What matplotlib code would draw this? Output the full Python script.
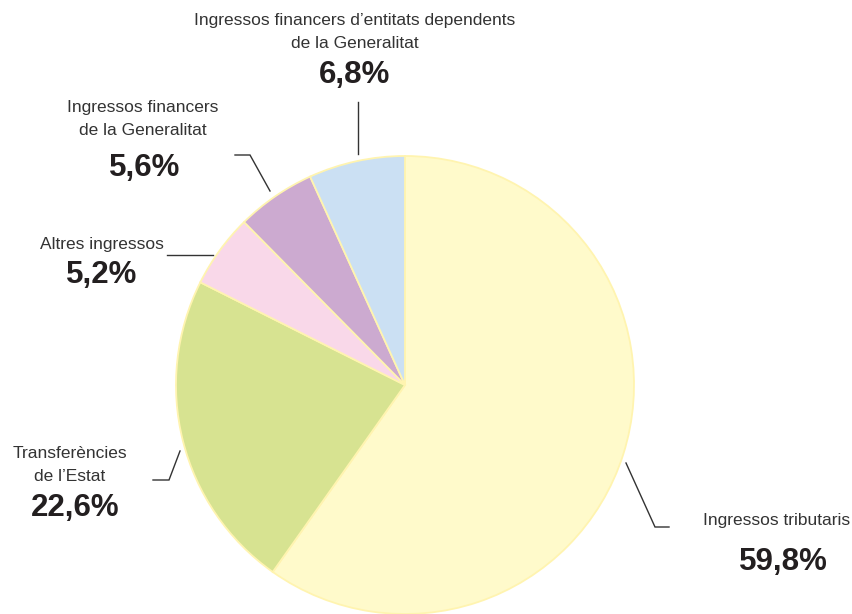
import matplotlib
matplotlib.use("Agg")
import matplotlib.pyplot as plt

labels = ["Ingressos tributaris", "Transferències\nde l’Estat", "Altres ingressos",
          "Ingressos financers\nde la Generalitat",
          "Ingressos financers d’entitats dependents\nde la Generalitat"]
values = [59.8, 22.6, 5.2, 5.6, 6.8]
pct_labels = ["59,8%", "22,6%", "5,2%", "5,6%", "6,8%"]
colors = ["#FFFACB", "#D7E391", "#F9D8E9", "#CCAAD0", "#CBE0F3"]

W, H = 852, 614
fig = plt.figure(figsize=(W / 100, H / 100), dpi=100)
ax = fig.add_axes([0, 0, 1, 1])

def Y(y):
    return H - y

ax.pie(values, colors=colors, startangle=90, counterclock=False,
       center=(405, Y(385)), radius=229,
       wedgeprops=dict(edgecolor="#FFF4B0", linewidth=1.3))
ax.set_xlim(0, W)
ax.set_ylim(0, H)
ax.set_aspect("equal")
ax.axis("off")

lab_font = dict(family=["Liberation Sans", "DejaVu Sans"], fontsize=12.5,
                color="#333333", ha="center", va="center", linespacing=1.6)
pct_font = dict(family=["Liberation Sans", "DejaVu Sans"], fontsize=22.5,
                fontweight="bold", color="#231F20", ha="center", va="center")

# label layout: (label x, label y, pct x, pct y, leader points)
layout = [
    (777, 521, 783, 562, [(626, 463), (655, 527), (669, 527)]),
    (70, 465, 75, 508, [(180, 451), (169, 480), (153, 480)]),
    (102, 244, 102, 275, [(213, 255), (167, 255)]),
    (143, 119, 145, 168, [(270, 191), (250, 155), (235, 155)]),
    (355, 32, 355, 75, [(358, 154), (358, 102)]),
]

for lab, pct, (lx, ly, px, py, pts) in zip(labels, pct_labels, layout):
    ax.text(lx, Y(ly), lab, **lab_font)
    ax.text(px, Y(py), pct, **pct_font)
    ax.plot([p[0] for p in pts], [Y(p[1]) for p in pts], color="#333333", lw=1.0,
            solid_joinstyle="miter")

fig.savefig("out.png", dpi=100)
